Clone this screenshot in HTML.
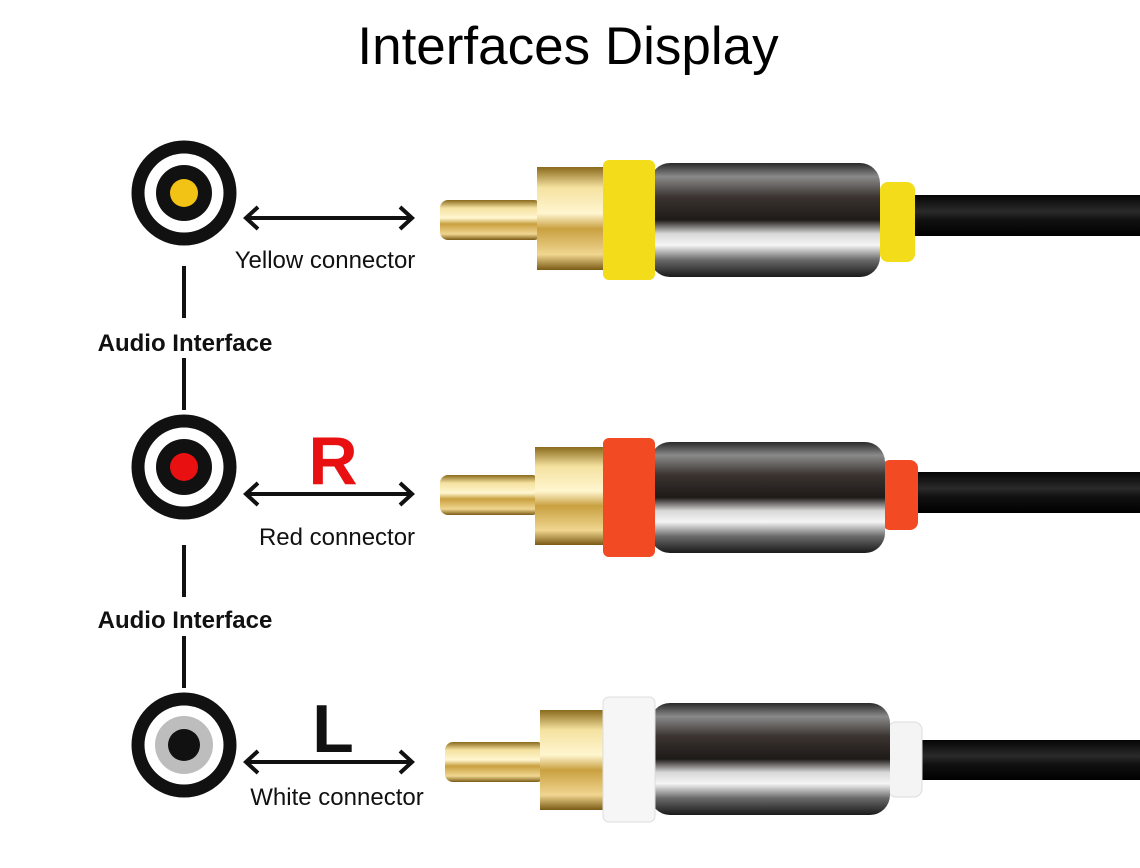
<!DOCTYPE html>
<html><head><meta charset="utf-8"><style>
body{margin:0;background:#fff}
svg{display:block}
text{font-family:"Liberation Sans",Arial,sans-serif}
</style></head><body>
<svg width="1140" height="868" viewBox="0 0 1140 868" xmlns="http://www.w3.org/2000/svg">
<defs>
<linearGradient id="gold" x1="0" y1="0" x2="0" y2="1">
<stop offset="0" stop-color="#8a6a1c"/><stop offset="0.2" stop-color="#f5e2a0"/><stop offset="0.45" stop-color="#fff6d0"/><stop offset="0.6" stop-color="#c9a040"/><stop offset="0.85" stop-color="#f0d690"/><stop offset="1" stop-color="#7a5a14"/>
</linearGradient>
<linearGradient id="metal" x1="0" y1="0" x2="0" y2="1">
<stop offset="0" stop-color="#2a2a2a"/><stop offset="0.12" stop-color="#8a8a8a"/><stop offset="0.3" stop-color="#3a3330"/><stop offset="0.5" stop-color="#1e1a18"/><stop offset="0.62" stop-color="#d8d8d8"/><stop offset="0.72" stop-color="#f5f5f5"/><stop offset="0.85" stop-color="#6a6a6a"/><stop offset="1" stop-color="#1a1a1a"/>
</linearGradient>
<linearGradient id="cable" x1="0" y1="0" x2="0" y2="1">
<stop offset="0" stop-color="#050505"/><stop offset="0.4" stop-color="#2a2a2a"/><stop offset="0.6" stop-color="#111"/><stop offset="1" stop-color="#000"/>
</linearGradient>
<g id="arrow">
<line x1="246" y1="0" x2="412" y2="0" stroke="#111" stroke-width="4"/>
<polyline points="258,-11 246,0 258,11" fill="none" stroke="#111" stroke-width="4"/>
<polyline points="400,-11 412,0 400,11" fill="none" stroke="#111" stroke-width="4"/>
</g>
</defs>

<text x="568" y="64" font-size="53" text-anchor="middle" fill="#000">Interfaces Display</text>

<!-- jacks -->
<circle cx="184" cy="193" r="46" fill="none" stroke="#111" stroke-width="13"/>
<circle cx="184" cy="193" r="28" fill="#111"/>
<circle cx="184" cy="193" r="14" fill="#f2c314"/>
<circle cx="184" cy="467" r="46" fill="none" stroke="#111" stroke-width="13"/>
<circle cx="184" cy="467" r="28" fill="#111"/>
<circle cx="184" cy="467" r="14" fill="#e81010"/>
<circle cx="184" cy="745" r="46" fill="none" stroke="#111" stroke-width="13"/>
<circle cx="184" cy="745" r="29" fill="#bdbdbd"/>
<circle cx="184" cy="745" r="16" fill="#111"/>

<g stroke="#111" stroke-width="4">
<line x1="184" y1="266" x2="184" y2="318"/><line x1="184" y1="358" x2="184" y2="410"/>
<line x1="184" y1="545" x2="184" y2="597"/><line x1="184" y1="636" x2="184" y2="688"/>
</g>
<text x="185" y="351" font-size="24" font-weight="bold" text-anchor="middle" fill="#111">Audio Interface</text>
<text x="185" y="628" font-size="24" font-weight="bold" text-anchor="middle" fill="#111">Audio Interface</text>

<use href="#arrow" y="218"/>
<use href="#arrow" y="494"/>
<use href="#arrow" y="762"/>
<text x="325" y="268" font-size="24" text-anchor="middle" fill="#111">Yellow connector</text>
<text x="337" y="545" font-size="24" text-anchor="middle" fill="#111">Red connector</text>
<text x="337" y="805" font-size="24" text-anchor="middle" fill="#111">White connector</text>
<text x="333" y="484" font-size="68" font-weight="bold" text-anchor="middle" fill="#e81010">R</text>
<text x="333" y="752" font-size="68" font-weight="bold" text-anchor="middle" fill="#111">L</text>

<!-- plug 1 -->
<rect x="915" y="195" width="225" height="41" fill="url(#cable)"/>
<rect x="880" y="182" width="35" height="80" rx="8" fill="#f3dd1a"/>
<rect x="440" y="200" width="102" height="40" rx="8" fill="url(#gold)"/>
<rect x="537" y="167" width="70" height="103" fill="url(#gold)"/>
<rect x="650" y="163" width="230" height="114" rx="20" fill="url(#metal)"/>
<rect x="603" y="160" width="52" height="120" rx="6" fill="#f3dd1a"/>

<!-- plug 2 -->
<rect x="915" y="472" width="225" height="41" fill="url(#cable)"/>
<rect x="882" y="460" width="36" height="70" rx="8" fill="#f24a22"/>
<rect x="440" y="475" width="100" height="40" rx="8" fill="url(#gold)"/>
<rect x="535" y="447" width="72" height="98" fill="url(#gold)"/>
<rect x="650" y="442" width="235" height="111" rx="20" fill="url(#metal)"/>
<rect x="603" y="438" width="52" height="119" rx="6" fill="#f24a22"/>

<!-- plug 3 -->
<rect x="920" y="740" width="220" height="40" fill="url(#cable)"/>
<rect x="888" y="722" width="34" height="75" rx="8" fill="#f4f4f4" stroke="#ddd"/>
<rect x="445" y="742" width="100" height="40" rx="8" fill="url(#gold)"/>
<rect x="540" y="710" width="67" height="100" fill="url(#gold)"/>
<rect x="650" y="703" width="240" height="112" rx="20" fill="url(#metal)"/>
<rect x="603" y="697" width="52" height="125" rx="6" fill="#f6f6f6" stroke="#ddd"/>
</svg>
</body></html>
